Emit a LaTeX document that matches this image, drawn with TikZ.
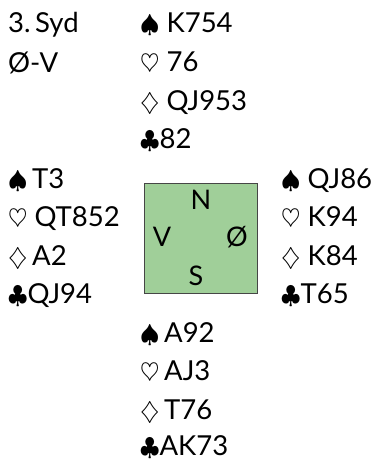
\documentclass[tikz,border=0pt]{standalone}
\usepackage{fontspec}
\setmainfont{Lato}
\usepackage{tikz}
\usetikzlibrary{positioning}

\definecolor{tablegreen}{RGB}{160,207,153}
\definecolor{tableedge}{RGB}{70,70,70}

\newcommand{\suit}[1]{{\fontsize{29}{30}\selectfont$#1$}}

\begin{document}
\begin{tikzpicture}[
  x=1pt, y=1pt,
  cards/.style={anchor=base west, inner sep=0pt, font=\fontsize{27.5}{30}\selectfont},
  seat/.style={anchor=base, inner sep=0pt, font=\fontsize{27}{30}\selectfont},
  table/.style={rectangle, draw=tableedge, fill=tablegreen, line width=0.8pt,
    minimum width=113pt, minimum height=110pt, inner sep=0pt}
]
  \useasboundingbox (0,0) rectangle (376,-460);

  % deal info
  \node[cards] (deal) at (8,-33) {3.\,Syd};
  \node[cards] (vuln) at (8,-72) {Ø-V};

  % north
  \node[cards] (nS) at (140,-33) {\suit{\spadesuit} K754};
  \node[cards] (nH) at (140,-71.5) {\suit{\heartsuit} 76};
  \node[cards] (nD) at (140,-110) {\suit{\diamondsuit} QJ953};
  \node[cards] (nC) at (140,-148.5) {\suit{\clubsuit}82};

  % west
  \node[cards] (wS) at (8,-188) {\suit{\spadesuit}\,T3};
  \node[cards] (wH) at (8,-226.5) {\suit{\heartsuit} QT852};
  \node[cards] (wD) at (8,-265) {\suit{\diamondsuit}\,A2};
  \node[cards] (wC) at (8,-303.5) {\suit{\clubsuit}QJ94};

  % east
  \node[cards] (eS) at (281,-188) {\suit{\spadesuit} QJ86};
  \node[cards] (eH) at (281,-226.5) {\suit{\heartsuit} K94};
  \node[cards] (eD) at (281,-265) {\suit{\diamondsuit} K84};
  \node[cards] (eC) at (281,-303.5) {\suit{\clubsuit}T65};

  % south
  \node[cards] (sS) at (140,-342) {\suit{\spadesuit}\,A92};
  \node[cards] (sH) at (140,-380.5) {\suit{\heartsuit}\,AJ3};
  \node[cards] (sD) at (140,-419) {\suit{\diamondsuit}\,T76};
  \node[cards] (sC) at (140,-455.5) {\suit{\clubsuit}AK73};

  % table
  \node[table] (tbl) at (200.5,-238) {};
  \node[seat] (N) at (201,-209) {N};
  \node[seat] (V) at (162,-246) {V};
  \node[seat] (O) at (237,-246) {Ø};
  \node[seat] (S) at (196,-285) {S};
\end{tikzpicture}
\end{document}
